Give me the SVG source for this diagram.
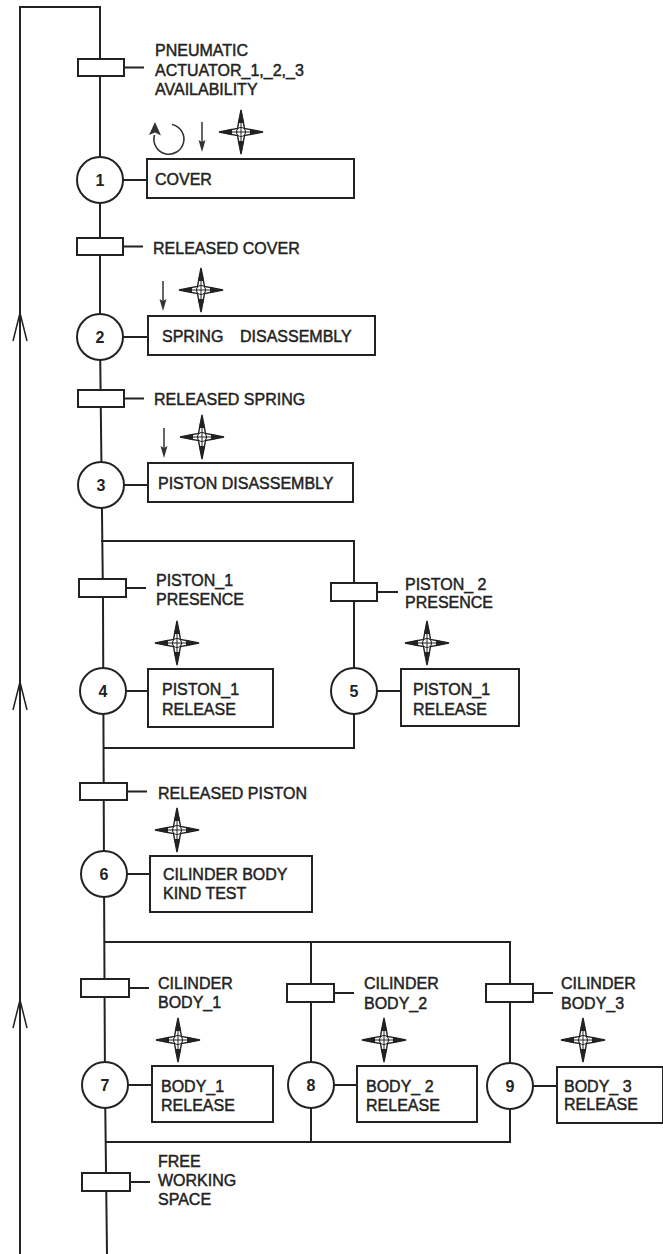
<svg xmlns="http://www.w3.org/2000/svg" xmlns:xlink="http://www.w3.org/1999/xlink" width="663" height="1254" viewBox="0 0 663 1254">
<style>
.ln{stroke:#222;stroke-width:2;fill:none}
.bx{fill:#fff;stroke:#222;stroke-width:2}
.t{font-family:"Liberation Sans",Arial,sans-serif;font-size:16px;fill:#222;stroke:#222;stroke-width:0.45}
.n{font-family:"Liberation Sans",Arial,sans-serif;font-size:16px;fill:#222;text-anchor:middle;font-weight:bold}
.ar{stroke:#222;stroke-width:1.5;fill:none}
</style>
<defs>
<g id="star">
<path d="M0,-22 L3.5,-3.5 L22,0 L3.5,3.5 L0,22 L-3.5,3.5 L-22,0 L-3.5,-3.5 Z" fill="#fff" stroke="#222" stroke-width="1.4"/>
<path d="M0,-20 V20 M-20,0 H20" stroke="#222" stroke-width="1"/>
<circle r="4.5" fill="none" stroke="#222" stroke-width="1.2"/>
<path d="M0,-22 L-3.2,-9 L3.2,-9 Z M22,0 L9,-3.2 L9,3.2 Z M0,22 L-3.2,9 L3.2,9 Z M-22,0 L-9,-3.2 L-9,3.2 Z" fill="#222"/>
</g>
<g id="dn">
<path d="M0,0 V22" stroke="#333" stroke-width="1.5"/>
<path d="M0,30 L-3.5,18 L0,20 L3.5,18 Z" fill="#333"/>
</g>
</defs>

<g id="connectors">
<polyline class="ln" points="20,1254 20,7 100,7 100,340 103,600 104,874 105,1085 107,1254"/>
<path class="ar" d="M13,341 L20,313 L27,341"/>
<path class="ar" d="M13,710 L20,682 L27,710"/>
<path class="ar" d="M13,1028 L20,1000 L27,1028"/>
<path class="ln" d="M101,541 H354 V748 H103"/>
<path class="ln" d="M104,942 H510 V1142 H105"/>
<path class="ln" d="M311,942 V1142"/>
<path class="ln" d="M124,67.5 H144 M123,180 H147 M123,246.5 H143 M123,337 H148 M124,398.5 H144 M124,485 H148 M126,588 H146 M126,691 H148 M377,592 H398 M377,691 H401 M127,791.5 H147 M127,874 H150 M129,988 H149 M128,1085 H152 M334,993 H354 M334,1085 H357 M533,993 H553 M533,1086 H557 M130,1182 H150"/>
</g>

<g id="t1">
<rect class="bx" x="78" y="59" width="46" height="17"/>
<text class="t" x="155" y="56">PNEUMATIC</text>
<text class="t" x="155" y="76">ACTUATOR_1,_2,_3</text>
<text class="t" x="155" y="95">AVAILABILITY</text>
</g>
<g id="icons1">
<path d="M172,124.5 A15,15 0 1 1 154.5,135" fill="none" stroke="#333" stroke-width="1.6"/>
<path d="M155,122 L149,135 L155,132.5 L161,135.5 Z" fill="#333"/>
<use xlink:href="#dn" x="202" y="122"/>
<use xlink:href="#star" x="241" y="132"/>
</g>
<g id="s1">
<circle class="bx" cx="100" cy="180" r="23"/>
<text class="n" x="100" y="186">1</text>
<rect class="bx" x="147" y="159" width="207" height="39"/>
<text class="t" x="155" y="185">COVER</text>
</g>

<g id="t2">
<rect class="bx" x="77" y="238" width="46" height="17"/>
<text class="t" x="153" y="254">RELEASED COVER</text>
</g>
<g id="icons2">
<use xlink:href="#dn" x="163" y="281"/>
<use xlink:href="#star" x="201" y="290"/>
</g>
<g id="s2">
<circle class="bx" cx="100" cy="337" r="23"/>
<text class="n" x="100" y="343">2</text>
<rect class="bx" x="148" y="316" width="227" height="39"/>
<text class="t" x="162" y="342">SPRING<tspan x="240">DISASSEMBLY</tspan></text>
</g>

<g id="t3">
<rect class="bx" x="78" y="390" width="46" height="17"/>
<text class="t" x="154" y="405">RELEASED SPRING</text>
</g>
<g id="icons3">
<use xlink:href="#dn" x="164" y="428"/>
<use xlink:href="#star" x="202" y="437"/>
</g>
<g id="s3">
<circle class="bx" cx="101" cy="485" r="23"/>
<text class="n" x="101" y="491">3</text>
<rect class="bx" x="148" y="463" width="205" height="39"/>
<text class="t" x="158" y="489">PISTON DISASSEMBLY</text>
</g>

<g id="t4">
<rect class="bx" x="79" y="579" width="47" height="18"/>
<text class="t" x="156" y="586">PISTON_1</text>
<text class="t" x="156" y="605">PRESENCE</text>
</g>
<use xlink:href="#star" x="177" y="643"/>
<g id="s4">
<circle class="bx" cx="103" cy="691" r="23"/>
<text class="n" x="103" y="697">4</text>
<rect class="bx" x="148" y="669" width="125" height="58"/>
<text class="t" x="162" y="695">PISTON_1</text>
<text class="t" x="162" y="715">RELEASE</text>
</g>

<g id="t5">
<rect class="bx" x="331" y="583" width="46" height="18"/>
<text class="t" x="405" y="590">PISTON_ 2</text>
<text class="t" x="405" y="608">PRESENCE</text>
</g>
<use xlink:href="#star" x="427" y="643"/>
<g id="s5">
<circle class="bx" cx="354" cy="691" r="23"/>
<text class="n" x="354" y="697">5</text>
<rect class="bx" x="401" y="669" width="118" height="57"/>
<text class="t" x="413" y="695">PISTON_1</text>
<text class="t" x="413" y="715">RELEASE</text>
</g>

<g id="t6">
<rect class="bx" x="80" y="783" width="47" height="17"/>
<text class="t" x="158" y="799">RELEASED PISTON</text>
</g>
<use xlink:href="#star" x="177" y="830"/>
<g id="s6">
<circle class="bx" cx="104" cy="874" r="23"/>
<text class="n" x="104" y="880">6</text>
<rect class="bx" x="150" y="856" width="162" height="56"/>
<text class="t" x="163" y="880">CILINDER BODY</text>
<text class="t" x="163" y="899">KIND TEST</text>
</g>

<g id="t7">
<rect class="bx" x="81" y="979" width="48" height="18"/>
<text class="t" x="158" y="989">CILINDER</text>
<text class="t" x="158" y="1008">BODY_1</text>
</g>
<use xlink:href="#star" x="178" y="1040"/>
<g id="s7">
<circle class="bx" cx="105" cy="1085" r="23"/>
<text class="n" x="105" y="1091">7</text>
<rect class="bx" x="152" y="1066" width="121" height="56"/>
<text class="t" x="161" y="1092">BODY_1</text>
<text class="t" x="161" y="1111">RELEASE</text>
</g>

<g id="t8">
<rect class="bx" x="287" y="984" width="47" height="18"/>
<text class="t" x="364" y="989">CILINDER</text>
<text class="t" x="364" y="1009">BODY_2</text>
</g>
<use xlink:href="#star" x="384" y="1040"/>
<g id="s8">
<circle class="bx" cx="311" cy="1085" r="23"/>
<text class="n" x="311" y="1091">8</text>
<rect class="bx" x="357" y="1066" width="120" height="56"/>
<text class="t" x="366" y="1092">BODY_ 2</text>
<text class="t" x="366" y="1111">RELEASE</text>
</g>

<g id="t9">
<rect class="bx" x="486" y="984" width="47" height="18"/>
<text class="t" x="561" y="989">CILINDER</text>
<text class="t" x="561" y="1009">BODY_3</text>
</g>
<use xlink:href="#star" x="583" y="1040"/>
<g id="s9">
<circle class="bx" cx="510" cy="1086" r="23"/>
<text class="n" x="510" y="1092">9</text>
<rect class="bx" x="557" y="1067" width="106" height="56"/>
<text class="t" x="564" y="1092">BODY_ 3</text>
<text class="t" x="564" y="1110">RELEASE</text>
</g>

<g id="t10">
<rect class="bx" x="82" y="1173" width="48" height="18"/>
<text class="t" x="158" y="1167">FREE</text>
<text class="t" x="158" y="1186">WORKING</text>
<text class="t" x="158" y="1205">SPACE</text>
</g>
</svg>
